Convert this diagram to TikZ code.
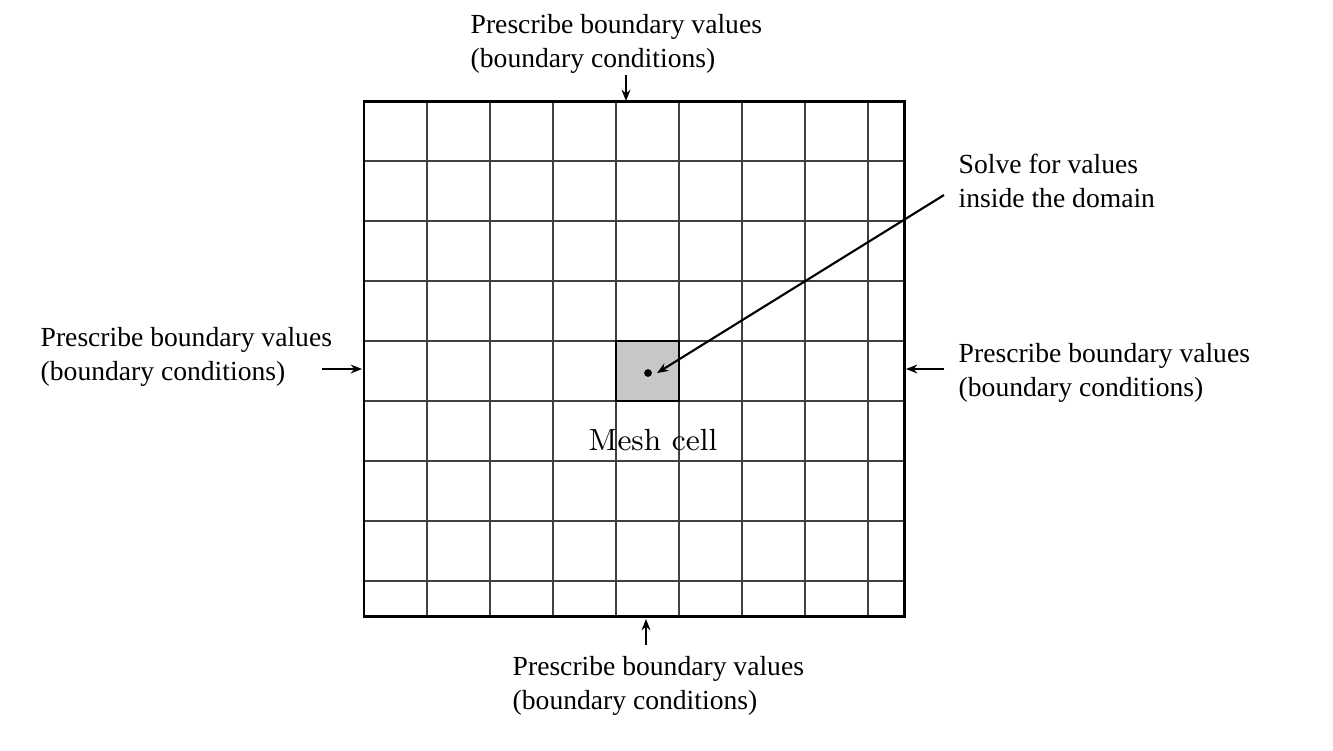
\documentclass[tikz,border=0pt]{standalone}
\usepackage{fontspec}
\newfontfamily\timesf{Liberation Serif}
\usetikzlibrary{arrows.meta}
\begin{document}
\begin{tikzpicture}[x=0.01cm,y=-0.01cm,
  lbl/.style={anchor=base west,align=left,inner sep=0pt,font=\timesf\fontsize{7.85}{9.6}\selectfont},
  gridline/.style={draw=black!75,line width=0.3pt},
  arr/.style={-{Stealth[length=3.2pt,width=2.5pt]},line width=0.6pt},
  border/.style={line width=0.85pt}]
\useasboundingbox (0,0) rectangle (1333,750);
% grid
\foreach \x in {427,490,553,616,679,742,805,868} \draw[gridline] (\x,101) -- (\x,616);
\foreach \y in {161,221,281,341,401,461,521,581} \draw[gridline] (364,\y) -- (904,\y);
% cell
\draw[line width=0.75pt,fill=black!22] (616,341) rectangle (679,401);
\node[circle,fill=black,inner sep=0pt,minimum size=2.2pt] (dot) at (648,373) {};
\coordinate (tip) at (657,373);
\draw[border] (364,101) rectangle (904,616);
\coordinate (tT) at (626,101);
\coordinate (tL) at (362,369);
\coordinate (tR) at (906,369);
\coordinate (tB) at (646,619);
% labels
\node[lbl] (top) at (470,67) {Prescribe boundary values\\(boundary conditions)};
\node[lbl] (left) at (40,380) {Prescribe boundary values\\(boundary conditions)};
\node[lbl] (right) at (958,396) {Prescribe boundary values\\(boundary conditions)};
\node[lbl] (bottom) at (512,709) {Prescribe boundary values\\(boundary conditions)};
\node[lbl] (solve) at (958,207) {Solve for values\\inside the domain};
\node[anchor=base,inner sep=0pt,font=\fontsize{8.7}{10}\selectfont] (mesh) at (653,450) {Mesh cell};
% arrows
\coordinate (sT) at (626,75);
\coordinate (sL) at (322,369);
\coordinate (sR) at (944,369);
\coordinate (sB) at (646,645);
\coordinate (sS) at (944,195);
\draw[arr] (sT) -- (tT);
\draw[arr] (sL) -- (tL);
\draw[arr] (sR) -- (tR);
\draw[arr] (sB) -- (tB);
\draw[arr] (sS) -- (tip);
\end{tikzpicture}
\end{document}
